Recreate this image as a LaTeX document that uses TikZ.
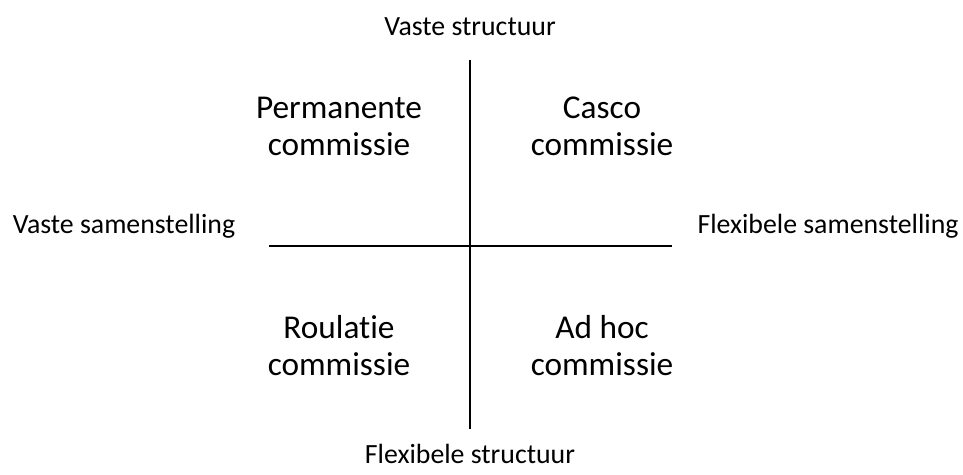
\documentclass[tikz,border=0pt]{standalone}
\usepackage{fontspec}
\setmainfont{Carlito}[Ligatures=NoCommon]
\usetikzlibrary{positioning}

\begin{document}
\begin{tikzpicture}[x=1pt, y=-1pt, axis/.style={line width=1.2pt},
    small/.style={font=\fontsize{27.8}{33}\selectfont, anchor=base, inner sep=0pt},
    big/.style={font=\fontsize{33.3}{37}\selectfont, align=center, anchor=base, inner sep=0pt}]
    \useasboundingbox (0,0) rectangle (963,474);

    \coordinate (top) at (470,60);
    \coordinate (bot) at (470,429);
    \coordinate (lft) at (269,246);
    \coordinate (rgt) at (672,246);

    \draw[axis] (top) -- (bot);
    \draw[axis] (lft) -- (rgt);

    \node[small] (vstruct) at (470,35) {Vaste structuur};
    \node[small] (fstruct) at (470,463) {Flexibele structuur};
    \node[small] (vsamen) at (124,233) {Vaste samenstelling};
    \node[small] (fsamen) at (828,233) {Flexibele samenstelling};

    % base anchor sits on the last line
    \node[big] (perm) at (339,155) {Permanente\\commissie};
    \node[big] (casco) at (602,155) {Casco\\commissie};
    \node[big] (roul) at (339,375) {Roulatie\\commissie};
    \node[big] (adhoc) at (602,375) {Ad hoc\\commissie};
\end{tikzpicture}
\end{document}
